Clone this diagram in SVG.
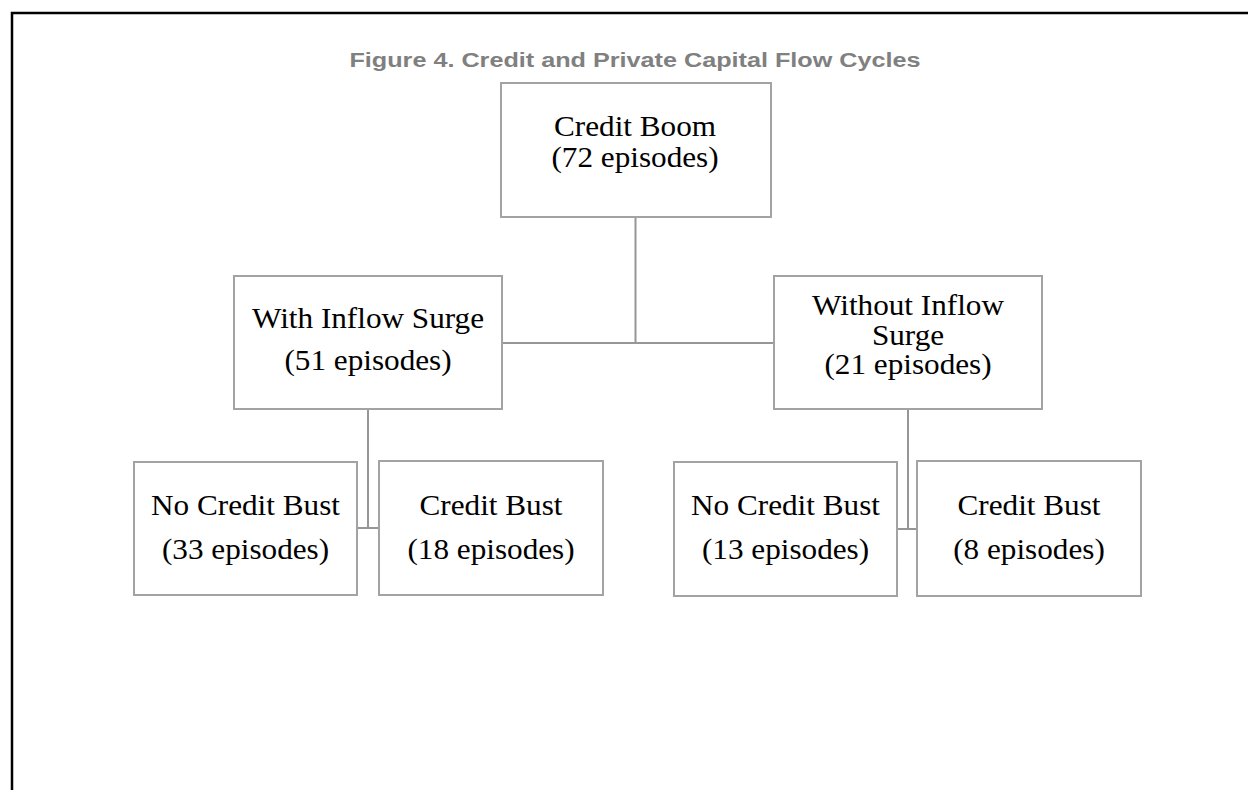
<svg xmlns="http://www.w3.org/2000/svg" width="1248" height="790" viewBox="0 0 1248 790">
<style>
.box{fill:#fff;stroke:#a3a3a3;stroke-width:2}
.lbl{font-family:"Liberation Serif","Times New Roman",serif;font-size:30px;fill:#000;text-anchor:middle}
.title{font-family:"Liberation Sans",Arial,sans-serif;font-weight:bold;font-size:21px;fill:#808080;text-anchor:middle}
.con{fill:none;stroke:#969696;stroke-width:2}
</style>
<rect x="0" y="0" width="1248" height="790" fill="#fff"/>
<path d="M12,790 V13 H1248" fill="none" stroke="#000" stroke-width="2.5"/>
<text class="title" transform="translate(635,67) scale(1.2,1)">Figure 4. Credit and Private Capital Flow Cycles</text>
<g id="connectors">
<path class="con" d="M635.5,217 V343 M502,343 H774"/>
<path class="con" d="M368,409 V528 M357,528 H379"/>
<path class="con" d="M908,409 V529 M897,529 H917"/>
</g>
<g id="credit-boom">
<rect class="box" x="501" y="83" width="270" height="134"/>
<text class="lbl" transform="translate(635,136) scale(1.04,1)">Credit Boom</text>
<text class="lbl" transform="translate(635,167) scale(1.04,1)">(72 episodes)</text>
</g>
<g id="with-inflow">
<rect class="box" x="234" y="276" width="268" height="133"/>
<text class="lbl" transform="translate(368,328) scale(1.04,1)">With Inflow Surge</text>
<text class="lbl" transform="translate(368,370) scale(1.04,1)">(51 episodes)</text>
</g>
<g id="without-inflow">
<rect class="box" x="774" y="276" width="268" height="133"/>
<text class="lbl" transform="translate(908,315) scale(1.04,1)">Without Inflow</text>
<text class="lbl" transform="translate(908,345) scale(1.04,1)">Surge</text>
<text class="lbl" transform="translate(908,374) scale(1.04,1)">(21 episodes)</text>
</g>
<g id="no-bust-1">
<rect class="box" x="134" y="462" width="223" height="133"/>
<text class="lbl" transform="translate(245.5,515) scale(1.04,1)">No Credit Bust</text>
<text class="lbl" transform="translate(245.5,559) scale(1.04,1)">(33 episodes)</text>
</g>
<g id="bust-1">
<rect class="box" x="379" y="461" width="224" height="134"/>
<text class="lbl" transform="translate(491,515) scale(1.04,1)">Credit Bust</text>
<text class="lbl" transform="translate(491,559) scale(1.04,1)">(18 episodes)</text>
</g>
<g id="no-bust-2">
<rect class="box" x="674" y="462" width="223" height="134"/>
<text class="lbl" transform="translate(785.5,515) scale(1.04,1)">No Credit Bust</text>
<text class="lbl" transform="translate(785.5,559) scale(1.04,1)">(13 episodes)</text>
</g>
<g id="bust-2">
<rect class="box" x="917" y="461" width="224" height="135"/>
<text class="lbl" transform="translate(1029,515) scale(1.04,1)">Credit Bust</text>
<text class="lbl" transform="translate(1029,559) scale(1.04,1)">(8 episodes)</text>
</g>
</svg>
